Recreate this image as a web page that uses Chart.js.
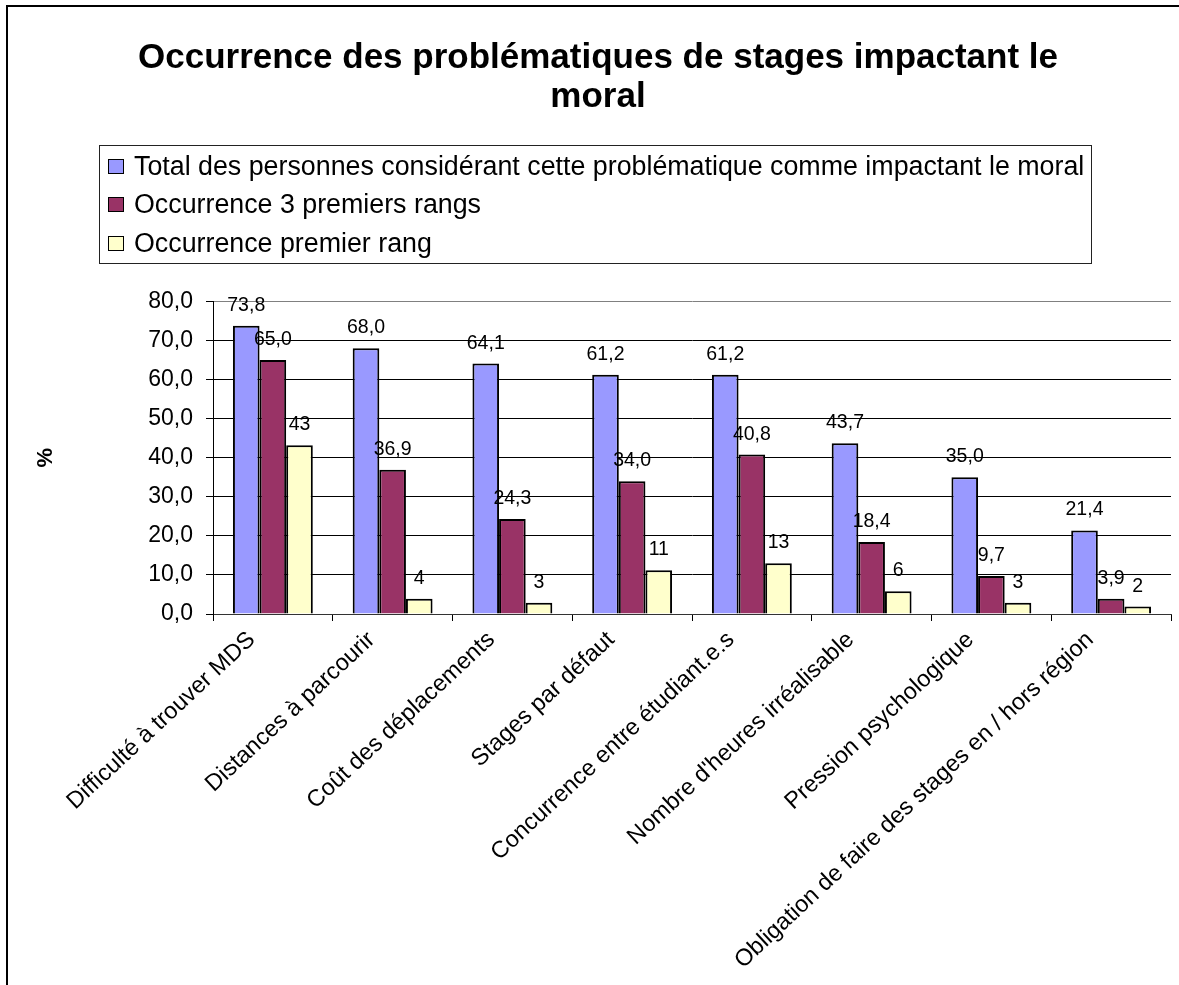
<!DOCTYPE html>
<html>
<head>
<meta charset="utf-8">
<script src="https://cdn.jsdelivr.net/npm/chart.js@4"></script>
<style>
  html, body { margin: 0; padding: 0; background: #fff; }
  #wrap { position: relative; width: 1179px; height: 985px; overflow: hidden; }
  #frame { position: absolute; left: 6px; top: 5px; width: 1300px; height: 1100px;
           border-top: 2px solid #000; border-left: 2px solid #000; }
  #legend { position: absolute; left: 99px; top: 145px; width: 991px; height: 117px;
            border: 1px solid #222; font-family: 'Liberation Sans', Arial, sans-serif;
            font-size: 26.8px; color: #000; }
  .row { position: absolute; left: 8px; height: 30px; display: flex; align-items: center; white-space: nowrap; }
  .sw { width: 14px; height: 13px; border: 1.5px solid #000; margin-right: 10px; flex: none; }
  canvas { position: absolute; left: 0; top: 0; }
</style>
</head>
<body>
<div id="wrap">
  <div id="frame"></div>
  <canvas id="chart" width="1179" height="985"></canvas>
  <div id="legend"></div>
</div>
<script>
// catégories (axe x)
const categories = [
  'Difficulté à trouver MDS',
  'Distances à parcourir',
  'Coût des déplacements',
  'Stages par défaut',
  'Concurrence entre étudiant.e.s',
  "Nombre d'heures irréalisable",
  'Pression psychologique',
  'Obligation de faire des stages en / hors région'
];

const seriesNames = [
  'Total des personnes considérant cette problématique comme impactant le moral',
  'Occurrence 3 premiers rangs',
  'Occurrence premier rang'
];

// valeurs
const totalValues = [73.8, 68.0, 64.1, 61.2, 61.2, 43.7, 35.0, 21.4];
const top3Values = [65.0, 36.9, 24.3, 34.0, 40.8, 18.4, 9.7, 3.9];
const firstValues = [43.2, 3.9, 2.9, 11.2, 13.0, 5.8, 2.9, 1.9];

const seriesColors = ['#9999FF', '#993366', '#FFFFCC'];
const labelDecimals = [1, 1, 0];

const yTicks = [0, 10, 20, 30, 40, 50, 60, 70, 80];

const FONT = "'Liberation Sans', Arial, sans-serif";

const fmt = (v, d) => v.toFixed(d).replace('.', ',');

// étiquettes de valeur au-dessus des barres
const valueLabels = {
  id: 'valueLabels',
  afterDatasetsDraw(chart) {
    const ctx = chart.ctx;
    ctx.save();
    ctx.font = '19.5px ' + FONT;
    ctx.fillStyle = '#000';
    ctx.textAlign = 'center';
    ctx.textBaseline = 'alphabetic';
    chart.data.datasets.forEach((ds, i) => {
      const meta = chart.getDatasetMeta(i);
      meta.data.forEach((bar, j) => {
        ctx.fillText(fmt(ds.data[j], labelDecimals[i]), bar.x, bar.y - 15);
      });
    });
    ctx.restore();
  }
};

const datasets = [totalValues, top3Values, firstValues].map((vals, i) => ({
  label: seriesNames[i],
  data: vals,
  backgroundColor: seriesColors[i],
  borderColor: '#000',
  borderWidth: 2,
  categoryPercentage: 0.667,
  barPercentage: 1.0
}));

new Chart(document.getElementById('chart'), {
  type: 'bar',
  data: { labels: categories, datasets: datasets },
  options: {
    responsive: false,
    animation: false,
    devicePixelRatio: 1,
    layout: { padding: { left: 25, right: 8, top: 0, bottom: 0 } },
    plugins: {
      legend: { display: false },
      tooltip: { enabled: false },
      title: {
        display: true,
        text: ['Occurrence des problématiques de stages impactant le', 'moral'],
        color: '#000',
        font: { family: FONT, size: 35, weight: 'bold', lineHeight: 1.12 },
        padding: { top: 39, bottom: 184 }
      }
    },
    scales: {
      x: {
        grid: {
          offset: true,
          drawOnChartArea: true,
          color: (c) => c.index === categories.length ? '#808080' : 'rgba(0,0,0,0)',
          tickColor: '#000',
          tickLength: 7
        },
        border: { color: '#333', width: 1 },
        ticks: {
          color: '#000',
          font: { family: FONT, size: 23.5 },
          minRotation: 43,
          maxRotation: 43,
          autoSkip: false,
          labelOffset: -21,
          padding: 5
        },
        afterFit: (scale) => { scale.height = 985 - 614; }
      },
      y: {
        min: 0,
        max: 80,
        afterBuildTicks: (scale) => { scale.ticks = yTicks.map(v => ({ value: v })); },
        grid: {
          color: (c) => c.tick && c.tick.value === 80 ? '#808080' : '#000',
          tickColor: '#000',
          tickLength: 7
        },
        border: { color: '#000', width: 1 },
        ticks: {
          color: '#000',
          font: { family: FONT, size: 23 },
          padding: 13,
          callback: (v) => fmt(v, 1)
        },
        title: {
          display: true,
          text: '%',
          color: '#000',
          font: { family: FONT, size: 22, weight: 'bold', lineHeight: 1.2 },
          padding: { top: 8, bottom: 0 }
        },
        afterFit: (scale) => { scale.width = 213 - 25; }
      }
    }
  },
  plugins: [valueLabels]
});

// légende HTML encadrée, une série par ligne
const legend = document.getElementById('legend');
const rowTops = [5, 43, 82];
seriesNames.forEach((name, i) => {
  const row = document.createElement('div');
  row.className = 'row';
  row.style.top = rowTops[i] + 'px';
  const sw = document.createElement('span');
  sw.className = 'sw';
  sw.style.background = seriesColors[i];
  const txt = document.createElement('span');
  txt.textContent = name;
  row.appendChild(sw);
  row.appendChild(txt);
  legend.appendChild(row);
});
</script>
</body>
</html>
